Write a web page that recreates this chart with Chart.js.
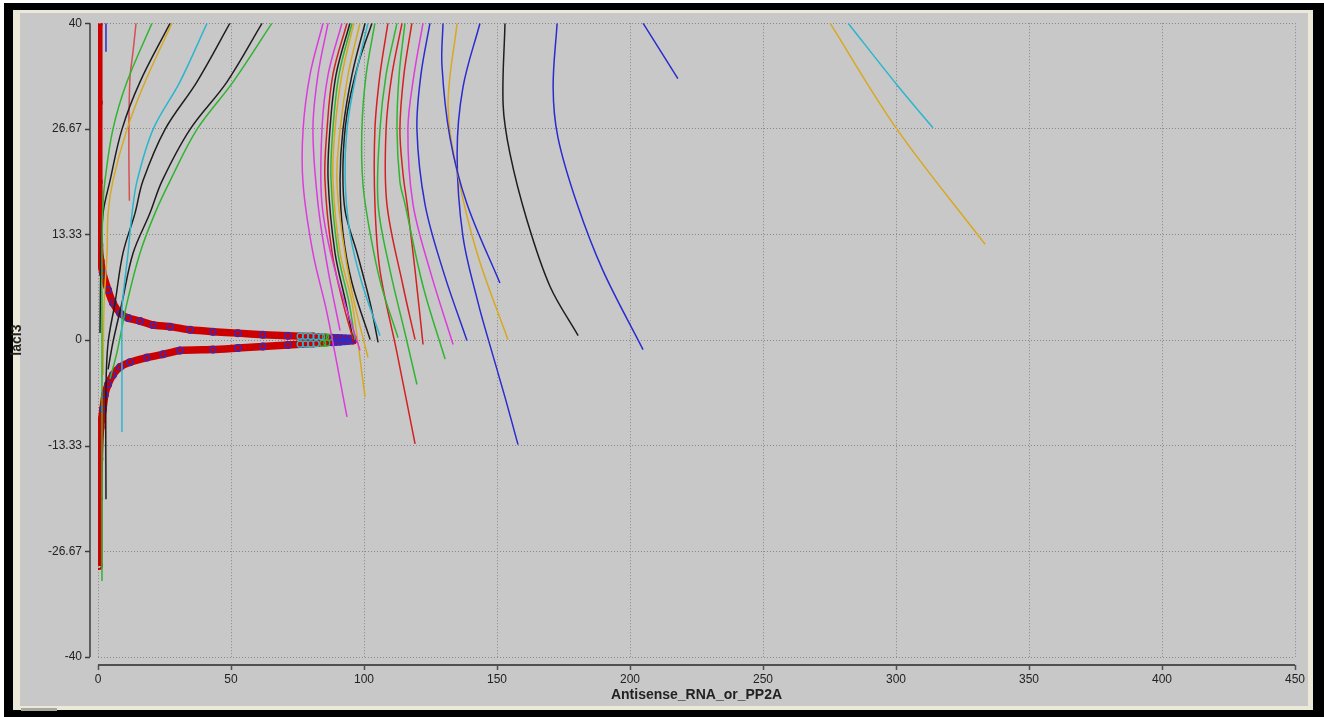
<!DOCTYPE html>
<html>
<head>
<meta charset="utf-8">
<script src="https://cdn.jsdelivr.net/npm/chart.js@4.4.1/dist/chart.umd.min.js"></script>
<style>
  html, body { margin: 0; padding: 0; background: #fff; }
  #phase { display: block; }
</style>
</head>
<body>
<canvas id="phase" width="1324" height="717"></canvas>
<script>
// axis ticks
const xTicks = [0, 50, 100, 150, 200, 250, 300, 350, 400, 450];
const yTicks = [40, 26.67, 13.33, 0, -13.33, -26.67, -40];

// trajectories, [x, y] pairs (x = Antisense_RNA_or_PP2A, y = lacI3)
const greenL1 = [[20.3,40],[10.9,32.6],[5.6,26.6],[2.6,20.1],[1.9,17.2],[1.5,11.3],[1.5,1.3],[1.5,-10],[1.5,-20],[1.5,-30.4]];
const blackL2 = [[27.1,40],[15.8,32.6],[9.0,26.6],[4.5,20.1],[1.9,16.0],[1.1,9.7],[0.75,0.9]];
const yellowL3 = [[27.8,40],[17.7,32.6],[10.9,26.6],[5.6,20.1],[3.8,16.0],[3.4,11.0],[2.3,4.7],[1.9,-4.4]];
const cyanL4 = [[41.0,40],[30.8,32.6],[20.7,26.6],[14.7,20.1],[12.8,16.0],[11.3,11.0],[9.4,5.5],[9.0,3.4],[9.0,-4],[9.0,-11.6]];
const blackL5 = [[49.6,40],[37.2,32.6],[25.2,26.6],[16.9,20.1],[13.9,16.0],[9.4,11.0],[6.4,4.7],[3.8,-0.3],[3.0,-6],[3.0,-20.1]];
const blackL6 = [[61.7,40],[48.5,32.6],[34.6,26.6],[24.1,20.1],[19.5,16.0],[13.2,11.0],[9.0,4.7],[5.6,-0.3],[3.8,-3.7]];
const greenL7 = [[65.4,40],[50.8,32.6],[37.2,26.6],[27.1,20.1],[21.4,16.0],[15.8,11.0],[10.9,4.7],[7.1,-1.6],[4.5,-4.9]];
const redL8 = [[14.3,40],[13.2,36.5],[12.0,33],[11.6,25],[11.8,17.6]];
const blueL9 = [[3.0,40],[3.0,36.4]];

const magenta1 = [[84.6,40],[79.7,33.5],[77.1,26.6],[77.1,19.7],[80.8,11.0],[86.1,3.4],[93.6,-9.7]];
const magenta2 = [[86.5,40],[82.7,33.5],[80.8,26.6],[82.7,17.2],[86.5,8.8],[91.0,1.2]];
const magenta3 = [[91.7,40],[86.5,33.5],[84.2,26.6],[84.2,17.2],[89.1,8.8],[98.5,-1.3]];
const bundleRed = [[93.6,40],[88.3,33.5],[86.1,26.6],[85.3,20.3],[88.0,11.0],[92.1,4.7],[95.9,0.06]];
const bundleBlack1 = [[94.7,40],[89.5,33.5],[87.2,26.6],[86.5,20.3],[89.1,11.0],[93.2,4.7],[95.9,0.06]];
const bundleGreen = [[95.5,40],[90.6,33.5],[88.3,26.6],[87.6,20.3],[90.2,11.0],[94.4,4.7],[96.6,0.06]];
const bundleYellow1 = [[96.2,40],[91.7,33.5],[89.1,26.6],[88.3,20.3],[91.0,11.0],[95.5,4.7],[100.4,-7.2]];
const bundleYellow2 = [[98.5,40],[94.0,33.5],[91.0,26.6],[89.8,20.3],[91.7,13.5],[95.5,6],[101.5,-2.2]];
const bundleBlack3 = [[100.4,40],[95.5,33.5],[92.1,26.6],[91.0,20.3],[92.1,13.5],[95.5,7.2],[102.3,0.06]];
const bundleCyan = [[101.5,40],[97.0,33.5],[93.6,26.6],[92.9,20.3],[94.7,13.5],[99.2,7.2],[106.0,0.56]];
const bundleBlack2 = [[103.0,40],[97.7,34.7],[93.6,28.5],[92.1,22.2],[92.9,16.3],[97.4,11.0],[102.3,4.7],[105.3,-0.3]];
const greenR0 = [[104.1,40],[100.8,33.5],[99.2,26.6],[99.6,19.7],[102.3,13.5],[106.4,7],[112.8,0.3]];
const red1 = [[109.0,40],[106.0,33.5],[104.1,26.6],[104.1,17.2],[106.0,8.8],[112.4,-1.6],[119.2,-13.1]];
const green2 = [[112.4,40],[108.3,33.5],[106.0,26.6],[105.3,17.2],[109.8,8.8],[115.4,0.9],[119.9,-5.6]];
const red2 = [[114.3,40],[110.5,33.5],[108.3,26.6],[108.6,17.2],[114.7,6.8],[119.2,0.06]];
const green3 = [[115.4,40],[113.2,33.5],[112.4,26.6],[113.5,20],[115.4,17.2],[122.2,6.8],[130.5,-2.4]];
const red3 = [[118.0,40],[115.0,33.5],[113.5,26.6],[114.7,20.9],[116.2,17.2],[119.2,8.8],[122.2,-0.56]];
const magenta4 = [[122.2,40],[118.8,33.5],[116.5,26.6],[118.4,17.2],[124.8,8.8],[133.5,-0.56]];
const blue1 = [[124.8,40],[121.4,33.5],[119.9,26.6],[122.9,17.2],[129.7,8.8],[138.7,-0.06]];
const blue2 = [[129.7,40],[129.3,34.7],[132.3,25.6],[138.7,17.2],[151.1,7.2]];
const yellow1 = [[135.0,40],[131.6,29.7],[135.0,21.3],[142.5,11.0],[154.1,0.06]];
const blue3 = [[143.6,40],[137.2,31.9],[135.0,23.5],[137.2,13.1],[142.9,4.7],[147.4,-0.7],[153.0,-7.2],[157.9,-13.2]];
const blackK = [[153.0,40],[152.3,29.7],[154.9,23.5],[161.3,15.1],[169.9,6.8],[180.5,0.56]];
const blue4 = [[172.6,40],[171.1,31.9],[172.9,25.6],[180.1,17.2],[189.8,8.8],[204.9,-1.2]];
const blue5 = [[204.9,40],[218.0,33.0]];
const yellow2 = [[275.2,40],[300.4,26.6],[333.5,12.1]];
const cyan2 = [[282.0,40],[300.4,32.2],[313.9,26.8]];

// steady-state branch (red markers), top column -> upper arm -> tip -> lower arm -> bottom column
const steadyBranch = [[0.3,40],[0.3,30],[0.3,20],[0.5,12],[1.0,10],[1.9,8.4],[3.8,6.3],[5.6,4.7],[8.3,3.4],[11.3,2.8],
  [15.8,2.4],[20.7,1.9],[27.1,1.7],[34.6,1.3],[43.2,1.06],[52.6,0.88],[62.0,0.69],[71.4,0.56],[80.8,0.44],[88,0.3],
  [95.9,0.19],[95.9,-0.06],[88,-0.25],[80.8,-0.44],[71.4,-0.63],[62.0,-0.81],[52.6,-1.0],[43.2,-1.19],[30.8,-1.31],
  [24.4,-1.8],[18.4,-2.2],[12.0,-2.8],[8.3,-3.4],[5.6,-4.4],[3.8,-5.6],[2.6,-6.9],[1.9,-8.7],[1.0,-11],[0.5,-15],
  [0.3,-20],[0.3,-28.5]];
const blueMarks = [[1.9,8.4],[3.8,6.3],[5.6,4.7],[8.3,3.4],[11.3,2.8],[15.8,2.4],[20.7,1.9],[27.1,1.7],[34.6,1.3],
  [43.2,1.06],[52.6,0.88],[62.0,0.69],[71.4,0.56],[71.4,-0.63],[62.0,-0.81],[52.6,-1.0],[43.2,-1.19],[30.8,-1.31],
  [24.4,-1.8],[18.4,-2.2],[12.0,-2.8],[8.3,-3.4],[5.6,-4.4],[3.8,-5.6],[2.6,-6.9],[1.9,-8.7]];
const cyanTip = [[76,0.5],[78,0.48],[80,0.46],[82,0.44],[84,0.42],[76,-0.52],[78,-0.5],[80,-0.48],[82,-0.45]];
const greenTip = [[85.5,0.4],[87,0.35],[84.5,-0.42],[86,-0.38]];
const blueTip = [[88.5,0.32],[90,0.3],[91.5,0.27],[93,0.24],[94.5,0.2],[88,-0.3],[89.5,-0.27],[91,-0.24],[92.5,-0.2],[94,-0.15],[95.5,-0.05]];

const MAGENTA = '#dc3cdc', BLUE = '#2b2bd0', GREEN = '#2fb52f', RED = '#d42020',
      BLACK = '#1e1e1e', YELLOW = '#d8a820', CYAN = '#2bb5cf', LIGHTRED = '#d65050';

const curves = [
  [greenL1, GREEN], [blackL2, BLACK], [yellowL3, YELLOW], [cyanL4, CYAN], [blackL5, BLACK],
  [blackL6, BLACK], [greenL7, GREEN], [redL8, LIGHTRED], [blueL9, BLUE],
  [magenta1, MAGENTA], [magenta2, MAGENTA], [magenta3, MAGENTA], [bundleRed, RED], [bundleBlack1, BLACK],
  [bundleGreen, GREEN], [bundleYellow1, YELLOW], [bundleYellow2, YELLOW], [bundleBlack3, BLACK],
  [bundleCyan, CYAN], [bundleBlack2, BLACK], [greenR0, GREEN], [red1, RED], [green2, GREEN], [red2, RED],
  [green3, GREEN], [red3, RED], [magenta4, MAGENTA], [blue1, BLUE], [blue2, BLUE], [yellow1, YELLOW],
  [blue3, BLUE], [blackK, BLACK], [blue4, BLUE], [blue5, BLUE], [yellow2, YELLOW], [cyan2, CYAN]
];

const toPts = (arr) => arr.map((p) => ({ x: p[0], y: p[1] }));

const datasets = curves.map(([arr, col]) => ({
  data: toPts(arr),
  borderColor: col,
  borderWidth: 1.5,
  pointRadius: 0,
  tension: 0.35,
  fill: false,
}));

const markerSet = (arr, col) => ({
  data: toPts(arr),
  showLine: false,
  pointRadius: 3,
  pointBorderWidth: 1.3,
  pointBorderColor: col,
  pointBackgroundColor: 'rgba(0,0,0,0)',
});

datasets.push(markerSet(blueMarks, BLUE));
datasets.push(markerSet(cyanTip, CYAN));
datasets.push(markerSet(greenTip, GREEN));
datasets.push(markerSet(blueTip, BLUE));
datasets.push({
  data: toPts(steadyBranch),
  borderColor: '#cc0000',
  borderWidth: 7.5,
  pointRadius: 3,
  pointBorderWidth: 2,
  pointBorderColor: '#cc0000',
  pointBackgroundColor: 'rgba(0,0,0,0)',
  tension: 0.2,
  fill: false,
});

// window frame + grey panel
const framePlugin = {
  id: 'frame',
  beforeDraw(chart) {
    const c = chart.ctx;
    c.save();
    c.fillStyle = '#ffffff';
    c.fillRect(0, 0, 1324, 717);
    c.fillStyle = '#000000';
    c.fillRect(4, 3, 1320, 714);
    c.fillStyle = '#ece9d8';
    c.fillRect(13, 10, 1300, 700);
    c.fillStyle = '#c8c8c8';
    c.fillRect(20, 13, 1288, 693);
    c.fillStyle = '#a8a8a0';
    c.fillRect(21, 708, 36, 3);
    c.restore();
  }
};

// axis lines sit a few pixels off the plot area
const axisPlugin = {
  id: 'offsetAxes',
  afterDraw(chart) {
    const c = chart.ctx;
    const xs = chart.scales.x, ys = chart.scales.y;
    const a = chart.chartArea;
    c.save();
    c.strokeStyle = '#3c3c3c';
    c.lineWidth = 1.5;
    const ax = a.left - 8;
    c.beginPath();
    c.moveTo(ax, ys.getPixelForValue(40));
    c.lineTo(ax, ys.getPixelForValue(-40));
    yTicks.forEach((v) => {
      const py = Math.round(ys.getPixelForValue(v)) + 0.5;
      c.moveTo(ax - 5, py);
      c.lineTo(ax, py);
    });
    c.stroke();
    c.strokeStyle = '#505050';
    c.lineWidth = 2;
    const ay = a.bottom + 8;
    c.beginPath();
    c.moveTo(xs.getPixelForValue(0), ay);
    c.lineTo(xs.getPixelForValue(450), ay);
    c.stroke();
    c.lineWidth = 1.5;
    c.beginPath();
    xTicks.forEach((v) => {
      const px = Math.round(xs.getPixelForValue(v)) + 0.5;
      c.moveTo(px, ay);
      c.lineTo(px, ay + 5);
    });
    c.stroke();
    c.restore();
  }
};

const tickFont = { family: 'Liberation Sans', size: 12 };
const titleFont = { family: 'Liberation Sans', size: 14, weight: 'bold' };

new Chart(document.getElementById('phase'), {
  type: 'line',
  data: { datasets },
  options: {
    responsive: false,
    animation: false,
    layout: { padding: { top: 18, right: 29, bottom: 0, left: 0 } },
    elements: { line: { capBezierPoints: false } },
    plugins: { legend: { display: false }, tooltip: { enabled: false } },
    scales: {
      x: {
        type: 'linear',
        min: 0,
        max: 450,
        afterBuildTicks: (s) => { s.ticks = xTicks.map((v) => ({ value: v })); },
        afterFit: (s) => { s.height = 60; },
        grid: { color: '#878787', lineWidth: 1, drawTicks: false },
        border: { display: false, dash: [1, 2] },
        ticks: { font: tickFont, color: '#222', padding: 15, maxRotation: 0, callback: (v) => String(v) },
        title: { display: true, text: 'Antisense_RNA_or_PP2A', font: titleFont, color: '#222', padding: { top: 0, bottom: 13 } }
      },
      y: {
        type: 'linear',
        min: -40,
        max: 40,
        afterBuildTicks: (s) => { s.ticks = yTicks.map((v) => ({ value: v })); },
        afterFit: (s) => { s.width = 98; },
        grid: { color: '#878787', lineWidth: 1, drawTicks: false },
        border: { display: false, dash: [1, 2] },
        ticks: { font: tickFont, color: '#222', padding: 16, callback: (v) => String(v) },
        title: { display: true, text: 'lacI3', font: titleFont, color: '#222', padding: { top: 9, bottom: 0 } }
      }
    }
  },
  plugins: [framePlugin, axisPlugin]
});
</script>
</body>
</html>
